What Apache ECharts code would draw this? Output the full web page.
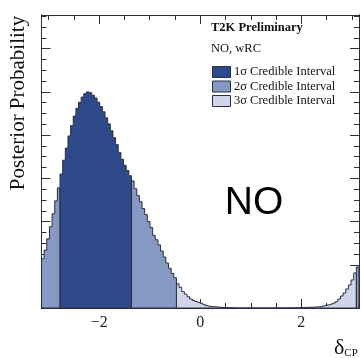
<!DOCTYPE html>
<html><head><meta charset="utf-8">
<script src="https://cdn.jsdelivr.net/npm/echarts@6/dist/echarts.min.js"></script>
<style>html,body{margin:0;padding:0;background:#fff}#c{width:362px;height:358px}</style>
</head><body><div id="c"></div>
<script>
// ---- data (posterior per bin, units of 1e-4) ----
const xMin = -Math.PI;
const xMax = Math.PI;
const binCount = 120;
const posterior = [
  57, 67, 80, 94, 109, 124, 139,
  155, 171, 185, 199, 211, 222, 231, 238, 244, 248, 250, 249, 246, 243,
  238, 233, 227, 220, 213, 205, 197, 189, 180, 172, 165, 159, 153,
  147, 138, 130, 123, 115, 108, 100, 93, 84, 79, 73, 66, 59, 52, 46, 40, 35,
  28, 24, 19, 16, 13, 10.4, 8.7, 7.5, 6.4, 5.4, 3.9, 2.8, 2.1, 1.7, 1.4, 1.2, 0.9, 0.7, 0.6, 0.5, 0.35, 0.23,
  0, 0, 0, 0, 0, 0, 0, 0, 0, 0, 0, 0, 0, 0, 0, 0, 0, 0, 0,
  0.1, 0.1, 0.2, 0.2, 0.35, 0.35, 0.5, 0.6,
  0.7, 0.8, 0.9, 1.0, 1.2, 1.6, 2.2, 2.9, 3.6, 4.4, 5.6, 7.3, 10.4, 13.9, 17.4, 22, 26.6, 32.4, 40.5, 47.4
];
// credible-interval regions: [first bin, last bin, sigma level]
const regions = [
  [0, 6, 2], [7, 33, 1], [34, 50, 2], [51, 118, 3], [119, 119, 2]
];
const legendLabels = ['1\u03c3 Credible Interval', '2\u03c3 Credible Interval', '3\u03c3 Credible Interval'];
const xMajorTicks = [-2, 0, 2];
const xMinorTicks = [-3, -2.5, -2, -1.5, -1, -0.5, 0, 0.5, 1, 1.5, 2, 2.5, 3];
const yMax = 339;
const yMajorTicks = [0, 50, 100, 150, 200, 250, 300];
const yMinorTicks = [];
for (let v = 0; v < yMax; v += 12.5) yMinorTicks.push(v);

// ---- styles ----
const levelColors = {1: '#2f4a8b', 2: '#8798c3', 3: '#d0d5ea'};
const lineCol = '#2a2f3d';
const serif = '"Liberation Serif","DejaVu Serif",serif';
const binW = (xMax - xMin) / binCount;
const edge = i => xMin + i * binW;

const chart = echarts.init(document.getElementById('c'), null, {renderer: 'canvas'});

function xAxisDef(pos, ticks, len, labels) {
  return {
    type: 'value', min: xMin, max: xMax, position: pos,
    axisLine: {show: true, onZero: false, lineStyle: {color: lineCol, width: 1}},
    axisTick: {show: true, inside: true, length: len, customValues: ticks, lineStyle: {color: lineCol, width: 1}},
    axisLabel: labels ? {show: true, customValues: xMajorTicks, margin: 7, color: '#222', fontFamily: serif, fontSize: 16,
      formatter: v => (v < 0 ? '\u2212' + Math.abs(v) : String(v))} : {show: false},
    splitLine: {show: false}
  };
}
function yAxisDef(pos, ticks, len) {
  return {
    type: 'value', min: 0, max: yMax, position: pos,
    axisLine: {show: true, onZero: false, lineStyle: {color: lineCol, width: 1}},
    axisTick: {show: true, inside: true, length: len, customValues: ticks, lineStyle: {color: lineCol, width: 1}},
    axisLabel: {show: false}, splitLine: {show: false}
  };
}

const option = {
  animation: false,
  grid: {left: 41.5, right: 3, top: 15, bottom: 50, show: false},
  xAxis: [
    xAxisDef('bottom', xMinorTicks, 5, false),
    xAxisDef('bottom', xMajorTicks, 9, true),
    xAxisDef('top', xMinorTicks, 5, false),
    xAxisDef('top', xMajorTicks, 9, false)
  ],
  yAxis: [
    yAxisDef('left', yMinorTicks, 5),
    yAxisDef('left', yMajorTicks, 9),
    yAxisDef('right', yMinorTicks, 5),
    yAxisDef('right', yMajorTicks, 9)
  ],
  series: [{
    type: 'custom',
    xAxisIndex: 0, yAxisIndex: 0,
    data: regions.map(r => [edge(r[0]), edge(r[1] + 1), r[2]]),
    clip: true,
    renderItem: function (params, api) {
      const r = regions[params.dataIndex];
      const pts = [api.coord([edge(r[0]), 0])];
      for (let i = r[0]; i <= r[1]; i++) {
        pts.push(api.coord([edge(i), posterior[i]]));
        pts.push(api.coord([edge(i + 1), posterior[i]]));
      }
      pts.push(api.coord([edge(r[1] + 1), 0]));
      return {
        type: 'polygon',
        shape: {points: pts},
        style: {fill: levelColors[r[2]], stroke: lineCol, lineWidth: 1}
      };
    }
  }],
  graphic: [
    {type: 'text', x: 18, y: 103, rotation: Math.PI / 2,
      style: {text: 'Posterior Probability', font: '21px ' + serif, fill: '#111', align: 'center', verticalAlign: 'middle'}},
    {type: 'text', x: 254, y: 203,
      style: {text: 'NO', font: '39px "Liberation Sans", Arial, sans-serif', fill: '#000', align: 'center', verticalAlign: 'middle'}},
    {type: 'text', x: 334, y: 348,
      style: {text: '{d|\u03b4}{s|CP}', fill: '#111', align: 'left', verticalAlign: 'middle',
        rich: {d: {font: '22px ' + serif, fill: '#111'}, s: {font: '11px ' + serif, fill: '#111', padding: [10, 0, 0, 0]}}}},
    {type: 'text', x: 211, y: 28,
      style: {text: 'T2K Preliminary', font: 'bold 12.5px ' + serif, fill: '#111', align: 'left', verticalAlign: 'middle'}},
    {type: 'text', x: 211, y: 49,
      style: {text: 'NO, wRC', font: '12.5px ' + serif, fill: '#111', align: 'left', verticalAlign: 'middle'}}
  ].concat(legendLabels.flatMap((lab, k) => [
    {type: 'rect', shape: {x: 212.5, y: 66.5 + k * 14.5, width: 18, height: 11},
      style: {fill: levelColors[k + 1], stroke: lineCol, lineWidth: 1}},
    {type: 'text', x: 234, y: 72 + k * 14.5,
      style: {text: lab, font: '12.5px ' + serif, fill: '#111', align: 'left', verticalAlign: 'middle'}}
  ]))
};
chart.setOption(option);
</script>
</body></html>
